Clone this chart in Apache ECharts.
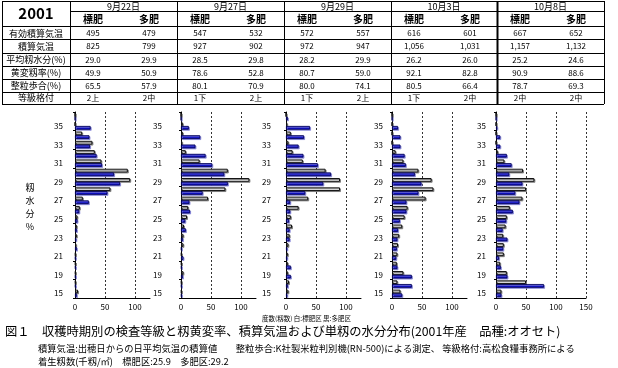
<!DOCTYPE html>
<html><head><meta charset="utf-8">
<script src="https://cdn.jsdelivr.net/npm/echarts@6/dist/echarts.min.js"></script>
<style>html,body{margin:0;padding:0;background:#fff}#c{width:618px;height:368px}</style>
</head><body><div id="c"></div>
<script>
// ---------- DATA ----------
const moistureCats = ['15','18','19','20','21','22','23','24','25','26','27','28','29','30','31','32','33','34','35','36'];
// 白: 標肥区, 黒(青): 多肥区 ; values listed bottom (15) to top (36)
const std0922 = [5,1,1,1,1,2,3,3,4,8,13,59,92,88,44,33,29,12,0,0];
const hi0922  = [3,1,1,1,1,3,2,3,4,7,23,54,75,65,45,36,25,24,26,0];
const std0927 = [1,1,4,1,1,4,4,5,10,12,45,74,114,78,31,8,2,3,3,0];
const hi0927  = [1,1,3,1,4,1,3,8,7,15,14,36,78,72,52,41,24,32,13,0];
const std0929 = [4,5,3,3,3,4,6,10,8,21,37,90,90,66,28,11,4,8,2,0];
const hi0929  = [2,3,8,8,2,2,6,6,5,7,7,32,62,75,53,29,21,30,40,3];
const std1003 = [14,9,19,8,9,10,12,17,21,26,56,69,66,44,19,6,0,0,0,0];
const hi1003  = [17,33,33,9,7,8,9,10,13,24,24,44,49,38,23,21,14,14,10,0];
const std1008 = [9,50,18,7,13,13,12,16,18,23,44,50,64,45,14,3,0,0,0,0];
const hi1008  = [9,80,19,8,5,12,19,11,17,28,39,32,44,22,26,18,7,7,2,0];
const xMaxes = [125,125,125,125,150];

const tableYear = '2001';
const tableDates = ['9月22日','9月27日','9月29日','10月3日','10月8日'];
const plotTypes = ['標肥','多肥'];
const rowLabels = ['有効積算気温','積算気温','平均籾水分(%)','黄変籾率(%)','整粒歩合(%)','等級格付'];
const effTemp  = ['495','479','547','532','572','557','616','601','667','652'];
const accTemp  = ['825','799','927','902','972','947','1,056','1,031','1,157','1,132'];
const moisture = ['29.0','29.9','28.5','29.8','28.2','29.9','26.2','26.0','25.2','24.6'];
const yellow   = ['49.9','50.9','78.6','52.8','80.7','59.0','92.1','82.8','90.9','88.6'];
const headRice = ['65.5','57.9','80.1','70.9','80.0','74.1','80.5','66.4','78.7','69.3'];
const grade    = ['2上','2中','1下','2上','1下','2上','1下','2中','2中','2中'];

const yTitleChars = ['籾','水','分','%'];
const freqNote = '度数(籾数) 白:標肥区 黒:多肥区';
const caption1 = '図１　収穫時期別の検査等級と籾黄変率、積算気温および単籾の水分分布(2001年産　品種:オオセト)';
const caption2 = '積算気温:出穂日からの日平均気温の積算値　　整粒歩合:K社製米粒判別機(RN-500)による測定、 等級格付:高松食糧事務所による';
const caption3 = '着生籾数(千籾/㎡)　標肥区:25.9　多肥区:29.2';

// ---------- CHART ----------
const FONT = "'Noto Sans CJK JP', sans-serif";
const stdSeries = [std0922,std0927,std0929,std1003,std1008];
const hiSeries = [hi0922,hi0927,hi0929,hi1003,hi1008];
const gridLefts = [75,181,286,392,496];
const labelMargins = [12,19,15,9,10];
const pxPerUnit = 0.6;

const grids=[],xAxes=[],yAxes=[],series=[];
for(let k=0;k<5;k++){
  grids.push({left:gridLefts[k], top:112, width:xMaxes[k]*pxPerUnit, height:186, containLabel:false});
  xAxes.push({type:'value', gridIndex:k, min:0, max:xMaxes[k], interval:50,
    axisLine:{show:true,lineStyle:{color:'#000',width:1}}, axisTick:{show:false},
    axisLabel:{fontSize:8, color:'#000', margin:5, fontFamily:FONT, formatter:v=> (v%50===0? String(v):'')},
    splitLine:{show:true, showMinLine:false, showMaxLine:(k===4), lineStyle:{type:[2,2], color:'#333', width:1}}});
  yAxes.push({type:'category', gridIndex:k, data:moistureCats,
    axisLine:{show:true,lineStyle:{color:'#000',width:1}},
    axisTick:{show:true, length:2, interval:1, lineStyle:{color:'#000'}},
    axisLabel:{interval:1, fontSize:8, color:'#000', margin:labelMargins[k], fontFamily:FONT},
    splitLine:{show:false}});
  series.push({type:'bar', name:'標肥区', xAxisIndex:k, yAxisIndex:k, data:stdSeries[k],
    barCategoryGap:'20%', barGap:'0%', silent:true,
    itemStyle:{color:'#ffffff', borderColor:'#111', borderWidth:1, shadowColor:'rgba(120,120,120,0.9)', shadowOffsetX:1, shadowOffsetY:1, shadowBlur:0}});
  series.push({type:'bar', name:'多肥区', xAxisIndex:k, yAxisIndex:k, data:hiSeries[k],
    barCategoryGap:'20%', barGap:'0%', silent:true,
    itemStyle:{color:'#1010c8', borderColor:'#000050', borderWidth:0.8, shadowColor:'rgba(120,120,210,0.9)', shadowOffsetX:1, shadowOffsetY:1, shadowBlur:0}});
}

// ---------- TABLE (graphic) ----------
const g=[];
const colEdges=[70,177,284,391,497,604];
const rowEdges=[26,39.2,52.5,65.8,79,91.6,103.5];
function hline(x1,x2,y,w){g.push({type:'line',silent:true,shape:{x1:x1,y1:y,x2:x2,y2:y},style:{stroke:'#000',lineWidth:w||1}});}
function vline(x,y1,y2,w){g.push({type:'line',silent:true,shape:{x1:x,y1:y1,x2:x,y2:y2},style:{stroke:'#000',lineWidth:w||1}});}
function txt(s,x,y,font,align,extra){g.push({type:'text',silent:true,x:x,y:y,style:Object.assign({text:s,fill:'#000',font:font,align:align||'center',verticalAlign:'middle'},extra||{})});}
hline(2,604,1.5); hline(70,604,11.5);
rowEdges.forEach(y=>hline(2,604,Math.round(y)+0.5));
vline(2.5,1,104); 
colEdges.forEach((x,i)=>vline(x+0.5,1,104, i===4?2:1));
txt(tableYear,36,13.5,'bold 15px '+FONT);
const tableRows=[effTemp,accTemp,moisture,yellow,headRice,grade];
for(let d=0;d<5;d++){
  const x0=colEdges[d], x1=colEdges[d+1];
  txt(tableDates[d],(x0+x1)/2,6.5,'9px '+FONT);
  txt(plotTypes[0],x0+23,18.8,'bold 10px '+FONT);
  txt(plotTypes[1],x0+79,18.8,'bold 10px '+FONT);
  tableRows.forEach((row,r)=>{
    const yc=(rowEdges[r]+rowEdges[r+1])/2+0.5;
    txt(row[2*d],x0+23,yc,'8px '+FONT);
    txt(row[2*d+1],x0+79,yc,'8px '+FONT);
  });
}
rowLabels.forEach((s,r)=>{ txt(s,36,(rowEdges[r]+rowEdges[r+1])/2+0.5,'9px '+FONT); });

// side title
const yTitleYs=[188,201,214,227];
yTitleChars.forEach((c,i)=>txt(c,30,yTitleYs[i],'9px '+FONT));
// notes and caption
txt(freqNote,262,319,'6.5px '+FONT,'left');
txt(caption1,5,331,'12.3px '+FONT,'left');
txt(caption2,38,348,'9.3px '+FONT,'left');
txt(caption3,38,361,'9.3px '+FONT,'left');

const chart=echarts.init(document.getElementById('c'),null,{renderer:'canvas'});
chart.setOption({animation:false, backgroundColor:'#fff', grid:grids, xAxis:xAxes, yAxis:yAxes, series:series, graphic:g});
</script></body></html>
